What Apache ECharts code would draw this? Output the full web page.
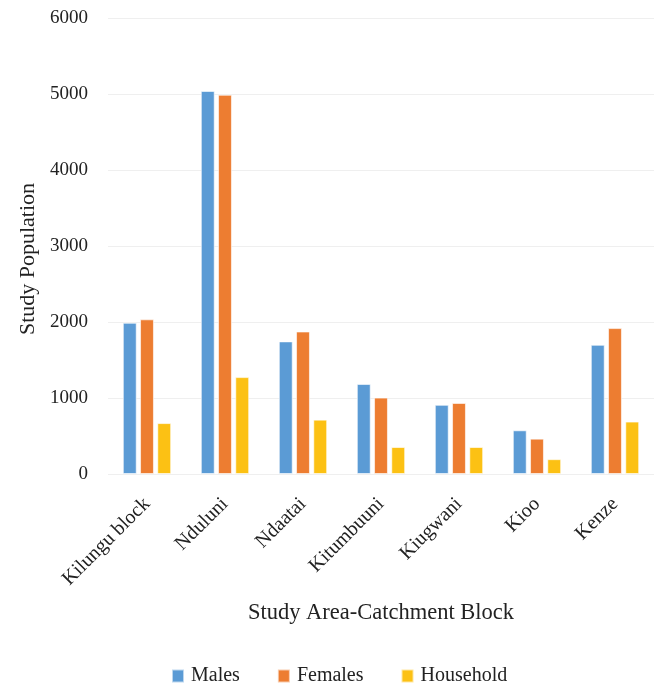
<!DOCTYPE html>
<html>
<head>
<meta charset="utf-8">
<script src="https://cdn.jsdelivr.net/npm/echarts@6/dist/echarts.min.js"></script>
<style>html,body{margin:0;padding:0;background:#fff;}#c{width:654px;height:685px;}</style>
</head>
<body>
<div id="c"></div>
<script>
const categories = ["Kilungu block", "Nduluni", "Ndaatai", "Kitumbuuni", "Kiugwani", "Kioo", "Kenze"];
const males = [1990, 5040, 1745, 1185, 910, 575, 1700];
const females = [2035, 4990, 1875, 1005, 935, 465, 1920];
const household = [670, 1275, 715, 355, 355, 195, 690];
const yTicks = [0, 1000, 2000, 3000, 4000, 5000, 6000];

const font = "Liberation Serif";
const chart = echarts.init(document.getElementById('c'), null, {renderer: 'canvas'});
const barStyle = c => ({color: c, borderColor: 'rgba(255,255,255,0.6)', borderWidth: 1});
chart.setOption({
  animation: false,
  backgroundColor: '#fff',
  textStyle: {fontFamily: font},
  grid: {left: 108, right: -8, top: 18, bottom: 211, containLabel: false},
  legend: {
    data: ['Males', 'Females', 'Household'],
    top: 661, left: 166,
    itemWidth: 12, itemHeight: 13, itemGap: 37,
    icon: 'rect',
    textStyle: {fontFamily: font, fontSize: 20, color: '#222', padding: [0, 0, 0, 2]}
  },
  xAxis: {
    type: 'category',
    data: categories,
    name: 'Study Area-Catchment Block',
    nameLocation: 'middle',
    nameGap: 128,
    nameTextStyle: {fontFamily: font, fontSize: 22.5, color: '#222'},
    axisLine: {show: false},
    axisTick: {show: false},
    axisLabel: {rotate: 45, interval: 0, fontFamily: font, fontSize: 20, color: '#222', margin: 27}
  },
  yAxis: {
    type: 'value',
    min: 0, max: 6000, interval: 1000,
    name: 'Study Population',
    nameLocation: 'middle',
    nameGap: 68,
    nameRotate: 90,
    nameTextStyle: {fontFamily: font, fontSize: 22, color: '#222', padding: [0, 26, 0, 0]},
    axisLine: {show: false},
    axisTick: {show: false},
    axisLabel: {fontFamily: font, fontSize: 19, color: '#222', margin: 20,
      formatter: v => yTicks.includes(v) ? String(v) : ''},
    splitLine: {lineStyle: {color: '#efefef', width: 1}}
  },
  series: [
    {name: 'Males', type: 'bar', data: males, itemStyle: barStyle('#5B9BD5'), barGap: '24%', barCategoryGap: '38%'},
    {name: 'Females', type: 'bar', data: females, itemStyle: barStyle('#ED7D31')},
    {name: 'Household', type: 'bar', data: household, itemStyle: barStyle('#FCC114')}
  ]
});
</script>
</body>
</html>
